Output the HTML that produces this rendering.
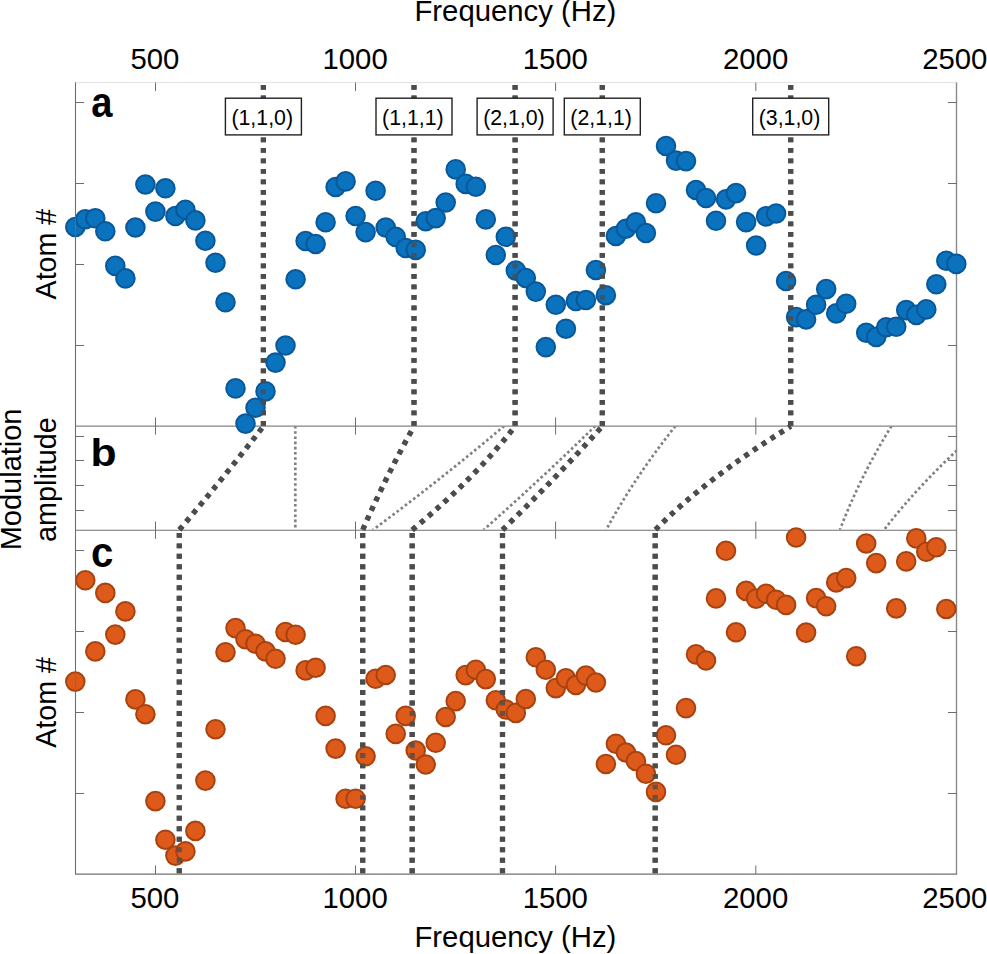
<!DOCTYPE html>
<html><head><meta charset="utf-8"><title>Figure</title>
<style>
html,body{margin:0;padding:0;background:#fff;}
body{width:987px;height:954px;overflow:hidden;position:relative;}
svg text{font-family:"Liberation Sans",sans-serif;fill:#000;}
</style></head><body>
<svg width="987" height="954" viewBox="0 0 987 954" style="position:absolute;left:0;top:0">
<rect width="987" height="954" fill="#fff"/>
<g stroke="#6e6e6e" stroke-width="1" fill="none">
<line x1="75.5" y1="82.6" x2="956.5" y2="82.6" stroke="#e2e2e2"/>
<line x1="75.5" y1="82.6" x2="75.5" y2="874.1"/>
<line x1="956.5" y1="82.6" x2="956.5" y2="874.1" stroke="#8a8a8a" stroke-width="1.4"/>
<line x1="75.3" y1="426.1" x2="956.3" y2="426.1" stroke="#858585" stroke-width="1.25"/>
<line x1="75.3" y1="530.2" x2="956.3" y2="530.2" stroke="#707070" stroke-width="1.15"/>
<line x1="75.0" y1="874.1" x2="957.0999999999999" y2="874.1" stroke="#707070" stroke-width="1.25"/>
<line x1="155.50" y1="82.6" x2="155.50" y2="91.1"/>
<line x1="155.50" y1="417.4" x2="155.50" y2="434.6"/>
<line x1="155.50" y1="521.5" x2="155.50" y2="538.9000000000001"/>
<line x1="155.50" y1="865.4" x2="155.50" y2="874.1"/>
<line x1="355.50" y1="82.6" x2="355.50" y2="91.1"/>
<line x1="355.50" y1="417.4" x2="355.50" y2="434.6"/>
<line x1="355.50" y1="521.5" x2="355.50" y2="538.9000000000001"/>
<line x1="355.50" y1="865.4" x2="355.50" y2="874.1"/>
<line x1="555.60" y1="82.6" x2="555.60" y2="91.1"/>
<line x1="555.60" y1="417.4" x2="555.60" y2="434.6"/>
<line x1="555.60" y1="521.5" x2="555.60" y2="538.9000000000001"/>
<line x1="555.60" y1="865.4" x2="555.60" y2="874.1"/>
<line x1="755.80" y1="82.6" x2="755.80" y2="91.1"/>
<line x1="755.80" y1="417.4" x2="755.80" y2="434.6"/>
<line x1="755.80" y1="521.5" x2="755.80" y2="538.9000000000001"/>
<line x1="755.80" y1="865.4" x2="755.80" y2="874.1"/>
<line x1="75" y1="102.5" x2="84" y2="102.5"/>
<line x1="948" y1="102.5" x2="957" y2="102.5"/>
<line x1="75" y1="183.5" x2="84" y2="183.5"/>
<line x1="948" y1="183.5" x2="957" y2="183.5"/>
<line x1="75" y1="264.5" x2="84" y2="264.5"/>
<line x1="948" y1="264.5" x2="957" y2="264.5"/>
<line x1="75" y1="345.5" x2="84" y2="345.5"/>
<line x1="948" y1="345.5" x2="957" y2="345.5"/>
<line x1="75" y1="436.5" x2="84" y2="436.5"/>
<line x1="948" y1="436.5" x2="957" y2="436.5"/>
<line x1="75" y1="460.5" x2="84" y2="460.5"/>
<line x1="948" y1="460.5" x2="957" y2="460.5"/>
<line x1="75" y1="485.5" x2="84" y2="485.5"/>
<line x1="948" y1="485.5" x2="957" y2="485.5"/>
<line x1="75" y1="510.5" x2="84" y2="510.5"/>
<line x1="948" y1="510.5" x2="957" y2="510.5"/>
<line x1="75" y1="550.5" x2="84" y2="550.5"/>
<line x1="948" y1="550.5" x2="957" y2="550.5"/>
<line x1="75" y1="631.5" x2="84" y2="631.5"/>
<line x1="948" y1="631.5" x2="957" y2="631.5"/>
<line x1="75" y1="712.5" x2="84" y2="712.5"/>
<line x1="948" y1="712.5" x2="957" y2="712.5"/>
<line x1="75" y1="793.5" x2="84" y2="793.5"/>
<line x1="948" y1="793.5" x2="957" y2="793.5"/>
</g>
<g stroke="#4c4c4c" stroke-width="5.2" fill="none" opacity="1">
<path d="M263.4 425.7 L263.4 84.1" stroke-dasharray="4.8 5.7"/>
<path d="M263.4 426.3 Q223.4 478.1 179.3 529.9000000000001" stroke-dasharray="4.8 5.7" stroke-dashoffset="-2.5"/>
<path d="M179.3 532.9000000000001 L179.3 873.5" stroke-dasharray="4.9 5.58"/>
<path d="M414.0 425.7 L414.0 84.1" stroke-dasharray="4.8 5.7"/>
<path d="M414.0 426.3 Q385.2 478.1 362.7 529.9000000000001" stroke-dasharray="4.8 5.7" stroke-dashoffset="-5.6"/>
<path d="M362.7 532.9000000000001 L362.7 873.5" stroke-dasharray="4.9 5.58"/>
<path d="M515.1 425.7 L515.1 84.1" stroke-dasharray="4.8 5.7"/>
<path d="M515.1 426.3 Q475.0 478.1 412.2 529.9000000000001" stroke-dasharray="4.8 5.7" stroke-dashoffset="-5.0"/>
<path d="M412.2 532.9000000000001 L412.2 873.5" stroke-dasharray="4.9 5.58"/>
<path d="M602.3 425.7 L602.3 84.1" stroke-dasharray="4.8 5.7"/>
<path d="M602.3 426.3 Q556.0 478.1 502.5 529.9000000000001" stroke-dasharray="4.8 5.7" stroke-dashoffset="-2.8"/>
<path d="M502.5 532.9000000000001 L502.5 873.5" stroke-dasharray="4.9 5.58"/>
<path d="M790.7 425.7 L790.7 84.1" stroke-dasharray="4.8 5.7"/>
<path d="M790.7 426.3 Q706.5 478.1 655.2 529.9000000000001" stroke-dasharray="4.8 5.7" stroke-dashoffset="2.3"/>
<path d="M655.2 532.9000000000001 L655.2 873.5" stroke-dasharray="4.9 5.58"/>
</g>
<g fill="#0b72bd" stroke="#09589a" stroke-width="2.0">
<circle cx="75.3" cy="227.0" r="9.3"/>
<circle cx="85.3" cy="219.3" r="9.3"/>
<circle cx="95.3" cy="218.3" r="9.3"/>
<circle cx="105.3" cy="231.3" r="9.3"/>
<circle cx="115.3" cy="265.9" r="9.3"/>
<circle cx="125.4" cy="278.4" r="9.3"/>
<circle cx="135.4" cy="227.5" r="9.3"/>
<circle cx="145.4" cy="184.5" r="9.3"/>
<circle cx="155.4" cy="211.6" r="9.3"/>
<circle cx="165.4" cy="188.3" r="9.3"/>
<circle cx="175.4" cy="216.0" r="9.3"/>
<circle cx="185.4" cy="209.7" r="9.3"/>
<circle cx="195.4" cy="220.4" r="9.3"/>
<circle cx="205.4" cy="240.7" r="9.3"/>
<circle cx="215.5" cy="262.7" r="9.3"/>
<circle cx="225.5" cy="302.3" r="9.3"/>
<circle cx="235.5" cy="388.4" r="9.3"/>
<circle cx="245.5" cy="423.6" r="9.3"/>
<circle cx="255.5" cy="407.7" r="9.3"/>
<circle cx="265.5" cy="391.4" r="9.3"/>
<circle cx="275.5" cy="362.6" r="9.3"/>
<circle cx="285.5" cy="345.5" r="9.3"/>
<circle cx="295.6" cy="279.3" r="9.3"/>
<circle cx="305.6" cy="241.0" r="9.3"/>
<circle cx="315.6" cy="244.0" r="9.3"/>
<circle cx="325.6" cy="222.2" r="9.3"/>
<circle cx="335.6" cy="187.0" r="9.3"/>
<circle cx="345.6" cy="181.4" r="9.3"/>
<circle cx="355.6" cy="216.0" r="9.3"/>
<circle cx="365.6" cy="232.1" r="9.3"/>
<circle cx="375.6" cy="190.8" r="9.3"/>
<circle cx="385.7" cy="227.5" r="9.3"/>
<circle cx="395.7" cy="236.9" r="9.3"/>
<circle cx="405.7" cy="248.0" r="9.3"/>
<circle cx="415.7" cy="249.9" r="9.3"/>
<circle cx="425.7" cy="221.2" r="9.3"/>
<circle cx="435.7" cy="218.1" r="9.3"/>
<circle cx="445.7" cy="202.5" r="9.3"/>
<circle cx="455.7" cy="169.4" r="9.3"/>
<circle cx="465.7" cy="183.9" r="9.3"/>
<circle cx="475.8" cy="186.7" r="9.3"/>
<circle cx="485.8" cy="219.4" r="9.3"/>
<circle cx="495.8" cy="255.0" r="9.3"/>
<circle cx="505.8" cy="236.7" r="9.3"/>
<circle cx="515.8" cy="270.6" r="9.3"/>
<circle cx="525.8" cy="278.0" r="9.3"/>
<circle cx="535.8" cy="291.6" r="9.3"/>
<circle cx="545.8" cy="347.1" r="9.3"/>
<circle cx="555.8" cy="304.8" r="9.3"/>
<circle cx="565.9" cy="328.7" r="9.3"/>
<circle cx="575.9" cy="301.0" r="9.3"/>
<circle cx="585.9" cy="300.0" r="9.3"/>
<circle cx="595.9" cy="270.0" r="9.3"/>
<circle cx="605.9" cy="295.2" r="9.3"/>
<circle cx="615.9" cy="236.0" r="9.3"/>
<circle cx="625.9" cy="228.7" r="9.3"/>
<circle cx="635.9" cy="222.4" r="9.3"/>
<circle cx="645.9" cy="233.0" r="9.3"/>
<circle cx="656.0" cy="203.2" r="9.3"/>
<circle cx="666.0" cy="146.0" r="9.3"/>
<circle cx="676.0" cy="160.6" r="9.3"/>
<circle cx="686.0" cy="161.1" r="9.3"/>
<circle cx="696.0" cy="190.0" r="9.3"/>
<circle cx="706.0" cy="198.0" r="9.3"/>
<circle cx="716.0" cy="220.8" r="9.3"/>
<circle cx="726.0" cy="199.4" r="9.3"/>
<circle cx="736.0" cy="193.1" r="9.3"/>
<circle cx="746.1" cy="222.1" r="9.3"/>
<circle cx="756.1" cy="245.5" r="9.3"/>
<circle cx="766.1" cy="216.4" r="9.3"/>
<circle cx="776.1" cy="213.5" r="9.3"/>
<circle cx="786.1" cy="281.0" r="9.3"/>
<circle cx="796.1" cy="317.1" r="9.3"/>
<circle cx="806.1" cy="319.4" r="9.3"/>
<circle cx="816.1" cy="304.8" r="9.3"/>
<circle cx="826.2" cy="289.1" r="9.3"/>
<circle cx="836.2" cy="313.4" r="9.3"/>
<circle cx="846.2" cy="303.8" r="9.3"/>
<circle cx="866.2" cy="332.7" r="9.3"/>
<circle cx="876.2" cy="336.9" r="9.3"/>
<circle cx="886.2" cy="327.3" r="9.3"/>
<circle cx="896.2" cy="326.8" r="9.3"/>
<circle cx="906.2" cy="310.1" r="9.3"/>
<circle cx="916.3" cy="314.9" r="9.3"/>
<circle cx="926.3" cy="309.4" r="9.3"/>
<circle cx="936.3" cy="284.3" r="9.3"/>
<circle cx="946.3" cy="260.8" r="9.3"/>
<circle cx="956.3" cy="263.9" r="9.3"/>
</g>
<g fill="#de5a1a" stroke="#a8420f" stroke-width="2.0">
<circle cx="75.3" cy="681.6" r="9.3"/>
<circle cx="85.3" cy="580.3" r="9.3"/>
<circle cx="95.3" cy="651.4" r="9.3"/>
<circle cx="105.3" cy="592.9" r="9.3"/>
<circle cx="115.3" cy="634.6" r="9.3"/>
<circle cx="125.4" cy="611.4" r="9.3"/>
<circle cx="135.4" cy="699.4" r="9.3"/>
<circle cx="145.4" cy="714.2" r="9.3"/>
<circle cx="155.4" cy="801.1" r="9.3"/>
<circle cx="165.4" cy="839.7" r="9.3"/>
<circle cx="175.4" cy="855.6" r="9.3"/>
<circle cx="185.4" cy="851.4" r="9.3"/>
<circle cx="195.4" cy="830.9" r="9.3"/>
<circle cx="205.4" cy="780.6" r="9.3"/>
<circle cx="215.5" cy="729.2" r="9.3"/>
<circle cx="225.5" cy="652.2" r="9.3"/>
<circle cx="235.5" cy="628.1" r="9.3"/>
<circle cx="245.5" cy="639.2" r="9.3"/>
<circle cx="255.5" cy="643.7" r="9.3"/>
<circle cx="265.5" cy="651.4" r="9.3"/>
<circle cx="275.5" cy="658.8" r="9.3"/>
<circle cx="285.5" cy="632.0" r="9.3"/>
<circle cx="295.6" cy="634.7" r="9.3"/>
<circle cx="305.6" cy="670.4" r="9.3"/>
<circle cx="315.6" cy="667.7" r="9.3"/>
<circle cx="325.6" cy="715.9" r="9.3"/>
<circle cx="335.6" cy="748.6" r="9.3"/>
<circle cx="345.6" cy="798.7" r="9.3"/>
<circle cx="355.6" cy="798.7" r="9.3"/>
<circle cx="365.6" cy="756.3" r="9.3"/>
<circle cx="375.6" cy="678.8" r="9.3"/>
<circle cx="385.7" cy="675.0" r="9.3"/>
<circle cx="395.7" cy="733.9" r="9.3"/>
<circle cx="405.7" cy="715.9" r="9.3"/>
<circle cx="415.7" cy="750.5" r="9.3"/>
<circle cx="425.7" cy="764.5" r="9.3"/>
<circle cx="435.7" cy="742.8" r="9.3"/>
<circle cx="445.7" cy="717.0" r="9.3"/>
<circle cx="455.7" cy="701.1" r="9.3"/>
<circle cx="465.7" cy="675.1" r="9.3"/>
<circle cx="475.8" cy="669.7" r="9.3"/>
<circle cx="485.8" cy="679.1" r="9.3"/>
<circle cx="495.8" cy="700.3" r="9.3"/>
<circle cx="505.8" cy="709.5" r="9.3"/>
<circle cx="515.8" cy="712.9" r="9.3"/>
<circle cx="525.8" cy="699.0" r="9.3"/>
<circle cx="535.8" cy="657.3" r="9.3"/>
<circle cx="545.8" cy="669.7" r="9.3"/>
<circle cx="555.8" cy="688.1" r="9.3"/>
<circle cx="565.9" cy="678.3" r="9.3"/>
<circle cx="575.9" cy="685.0" r="9.3"/>
<circle cx="585.9" cy="675.6" r="9.3"/>
<circle cx="595.9" cy="682.5" r="9.3"/>
<circle cx="605.9" cy="764.0" r="9.3"/>
<circle cx="615.9" cy="743.7" r="9.3"/>
<circle cx="625.9" cy="752.5" r="9.3"/>
<circle cx="635.9" cy="761.0" r="9.3"/>
<circle cx="645.9" cy="773.7" r="9.3"/>
<circle cx="656.0" cy="791.9" r="9.3"/>
<circle cx="666.0" cy="735.3" r="9.3"/>
<circle cx="676.0" cy="754.8" r="9.3"/>
<circle cx="686.0" cy="708.1" r="9.3"/>
<circle cx="696.0" cy="654.4" r="9.3"/>
<circle cx="706.0" cy="660.5" r="9.3"/>
<circle cx="716.0" cy="598.4" r="9.3"/>
<circle cx="726.0" cy="550.8" r="9.3"/>
<circle cx="736.0" cy="632.3" r="9.3"/>
<circle cx="746.1" cy="590.9" r="9.3"/>
<circle cx="756.1" cy="598.6" r="9.3"/>
<circle cx="766.1" cy="593.8" r="9.3"/>
<circle cx="776.1" cy="599.7" r="9.3"/>
<circle cx="786.1" cy="604.9" r="9.3"/>
<circle cx="796.1" cy="537.5" r="9.3"/>
<circle cx="806.1" cy="632.6" r="9.3"/>
<circle cx="816.1" cy="598.1" r="9.3"/>
<circle cx="826.2" cy="606.2" r="9.3"/>
<circle cx="836.2" cy="582.4" r="9.3"/>
<circle cx="846.2" cy="578.1" r="9.3"/>
<circle cx="856.2" cy="656.2" r="9.3"/>
<circle cx="866.2" cy="543.5" r="9.3"/>
<circle cx="876.2" cy="563.1" r="9.3"/>
<circle cx="896.2" cy="608.4" r="9.3"/>
<circle cx="906.2" cy="561.4" r="9.3"/>
<circle cx="916.3" cy="538.4" r="9.3"/>
<circle cx="926.3" cy="551.8" r="9.3"/>
<circle cx="936.3" cy="547.2" r="9.3"/>
<circle cx="946.3" cy="609.0" r="9.3"/>
</g>
<line x1="75.5" y1="82.6" x2="75.5" y2="874.1" stroke="#6e6e6e" stroke-width="1.1" opacity="0.8"/>
<g stroke="#4c4c4c" stroke-width="5.2" fill="none" opacity="0.8">
<path d="M263.4 425.7 L263.4 84.1" stroke-dasharray="4.8 5.7"/>
<path d="M263.4 426.3 Q223.4 478.1 179.3 529.9000000000001" stroke-dasharray="4.8 5.7" stroke-dashoffset="-2.5"/>
<path d="M179.3 532.9000000000001 L179.3 873.5" stroke-dasharray="4.9 5.58"/>
<path d="M414.0 425.7 L414.0 84.1" stroke-dasharray="4.8 5.7"/>
<path d="M414.0 426.3 Q385.2 478.1 362.7 529.9000000000001" stroke-dasharray="4.8 5.7" stroke-dashoffset="-5.6"/>
<path d="M362.7 532.9000000000001 L362.7 873.5" stroke-dasharray="4.9 5.58"/>
<path d="M515.1 425.7 L515.1 84.1" stroke-dasharray="4.8 5.7"/>
<path d="M515.1 426.3 Q475.0 478.1 412.2 529.9000000000001" stroke-dasharray="4.8 5.7" stroke-dashoffset="-5.0"/>
<path d="M412.2 532.9000000000001 L412.2 873.5" stroke-dasharray="4.9 5.58"/>
<path d="M602.3 425.7 L602.3 84.1" stroke-dasharray="4.8 5.7"/>
<path d="M602.3 426.3 Q556.0 478.1 502.5 529.9000000000001" stroke-dasharray="4.8 5.7" stroke-dashoffset="-2.8"/>
<path d="M502.5 532.9000000000001 L502.5 873.5" stroke-dasharray="4.9 5.58"/>
<path d="M790.7 425.7 L790.7 84.1" stroke-dasharray="4.8 5.7"/>
<path d="M790.7 426.3 Q706.5 478.1 655.2 529.9000000000001" stroke-dasharray="4.8 5.7" stroke-dashoffset="2.3"/>
<path d="M655.2 532.9000000000001 L655.2 873.5" stroke-dasharray="4.9 5.58"/>
</g>
<clipPath id="cb"><rect x="75.3" y="426.6" width="881.0" height="103.00000000000004"/></clipPath>
<g stroke="#808080" stroke-width="2.7" fill="none" stroke-dasharray="2.6 2.6" clip-path="url(#cb)">
<path d="M295.3 426.0 Q295.3 478.1 295.3 530.2"/>
<path d="M504.2 426.0 Q442.5 478.1 372.5 530.2"/>
<path d="M595.2 426.0 Q542.2 478.1 483.2 530.2"/>
<path d="M675.5 426.0 Q634.0 478.1 606.0 530.2"/>
<path d="M891.5 426.0 Q859.3 478.1 839.8 530.2"/>
<path d="M984.0 426.0 Q923.85 478.1 883.8 530.2"/>
</g>
<rect x="225.4" y="98.2" width="76" height="36.7" fill="#fff" stroke="#222" stroke-width="1.4"/>
<text transform="translate(262.2 125.0) scale(1 1.02)" font-size="21.3" text-anchor="middle">(1,1,0)</text>
<rect x="376.0" y="98.2" width="76" height="36.7" fill="#fff" stroke="#222" stroke-width="1.4"/>
<text transform="translate(412.8 125.0) scale(1 1.02)" font-size="21.3" text-anchor="middle">(1,1,1)</text>
<rect x="477.1" y="98.2" width="76" height="36.7" fill="#fff" stroke="#222" stroke-width="1.4"/>
<text transform="translate(513.9 125.0) scale(1 1.02)" font-size="21.3" text-anchor="middle">(2,1,0)</text>
<rect x="564.3" y="98.2" width="76" height="36.7" fill="#fff" stroke="#222" stroke-width="1.4"/>
<text transform="translate(601.1 125.0) scale(1 1.02)" font-size="21.3" text-anchor="middle">(2,1,1)</text>
<rect x="752.7" y="98.2" width="76" height="36.7" fill="#fff" stroke="#222" stroke-width="1.4"/>
<text transform="translate(789.5 125.0) scale(1 1.02)" font-size="21.3" text-anchor="middle">(3,1,0)</text>
<text transform="translate(154.9 68.9) scale(1 1.03)" font-size="29.3" text-anchor="middle">500</text>
<text transform="translate(154.9 908.3) scale(1 1.03)" font-size="29.3" text-anchor="middle">500</text>
<text transform="translate(355.1 68.9) scale(1 1.03)" font-size="29.3" text-anchor="middle">1000</text>
<text transform="translate(355.1 908.3) scale(1 1.03)" font-size="29.3" text-anchor="middle">1000</text>
<text transform="translate(555.3 68.9) scale(1 1.03)" font-size="29.3" text-anchor="middle">1500</text>
<text transform="translate(555.3 908.3) scale(1 1.03)" font-size="29.3" text-anchor="middle">1500</text>
<text transform="translate(755.6 68.9) scale(1 1.03)" font-size="29.3" text-anchor="middle">2000</text>
<text transform="translate(755.6 908.3) scale(1 1.03)" font-size="29.3" text-anchor="middle">2000</text>
<text transform="translate(954.8 68.9) scale(1 1.03)" font-size="29.3" text-anchor="middle">2500</text>
<text transform="translate(954.8 908.3) scale(1 1.03)" font-size="29.3" text-anchor="middle">2500</text>
<text transform="translate(515.4 21.1) scale(1 1.0)" font-size="29.3" text-anchor="middle">Frequency (Hz)</text>
<text transform="translate(515.4 947.4) scale(1 1.0)" font-size="29.3" text-anchor="middle">Frequency (Hz)</text>
<text transform="translate(55.9 254.1) rotate(-90) scale(1 1.045)" font-size="28.6" text-anchor="middle">Atom #</text>
<text transform="translate(55.9 702.5) rotate(-90) scale(1 1.045)" font-size="28.6" text-anchor="middle">Atom #</text>
<text transform="translate(21.1 479.4) rotate(-90) scale(1 1.045)" font-size="29.0" text-anchor="middle">Modulation</text>
<text transform="translate(56.0 479.6) rotate(-90) scale(1 1.045)" font-size="28.8" text-anchor="middle">amplitude</text>
<text transform="translate(91.2 116.9) scale(0.93 1.02)" font-size="41" text-anchor="start" font-weight="bold">a</text>
<text transform="translate(90.4 465.6) scale(1.04 0.945)" font-size="41" text-anchor="start" font-weight="bold">b</text>
<text transform="translate(91.0 567.0) scale(0.98 1.02)" font-size="41" text-anchor="start" font-weight="bold">c</text>
</svg>
</body></html>
